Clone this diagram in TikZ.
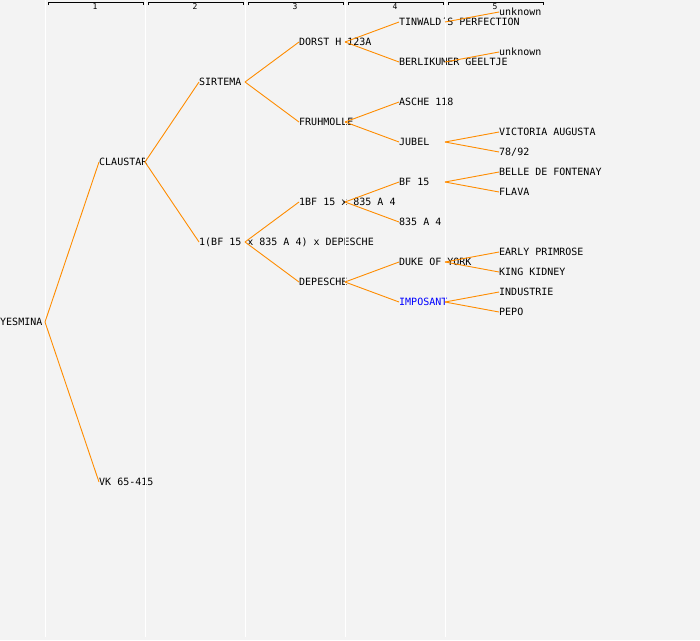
\documentclass[tikz,border=0pt]{standalone}
\usepackage{fontspec}
\setmonofont{DejaVu Sans Mono}
\usepackage{xcolor}
\definecolor{pedbg}{HTML}{F3F3F3}
\definecolor{pedline}{HTML}{FF8C00}
\definecolor{pedblue}{HTML}{0000FF}

\tikzset{
  horse/.style={anchor=west, inner sep=0pt, font=\ttfamily\fontsize{10}{10}\selectfont,
    text height=7.3pt, text depth=0pt},
  link/.style={draw=pedline, line width=0.9pt},
  colline/.style={draw=white, line width=1pt},
  genbox/.style={draw=black, line width=0.8pt},
  genno/.style={font=\ttfamily\fontsize{8}{8}\selectfont, inner sep=0pt}
}

\begin{document}
\begin{tikzpicture}[x=1pt, y=-1pt]

% Background
\fill[pedbg] (0,0) rectangle (700,640);
\useasboundingbox (0,0) rectangle (700,640);

% Generation headers
\foreach \g in {1,...,5} {
  \draw[genbox] ({100*\g-52},5) -- ({100*\g-52},2) -- ({100*\g+43},2) -- ({100*\g+43},5);
  \node[genno] (gen\g) at ({100*\g-5},6.5) {\g};
}

% Nodes
\node[horse] (yesmina) at (0,322) {YESMINA};

\node[horse] (claustar) at (99,162) {CLAUSTAR};
\node[horse] (vk) at (99,482) {VK 65-415};

\node[horse] (sirtema) at (199,82) {SIRTEMA};
\node[horse] (cross) at (199,242) {1(BF 15 x 835 A 4) x DEPESCHE};

\node[horse] (dorst) at (299,42) {DORST H 123A};
\node[horse] (fruhmolle) at (299,122) {FRUHMOLLE};
\node[horse] (bfcross) at (299,202) {1BF 15 x 835 A 4};
\node[horse] (depesche) at (299,282) {DEPESCHE};

\node[horse] (tinwald) at (399,22) {TINWALD´S PERFECTION};
\node[horse] (berlikumer) at (399,62) {BERLIKUMER GEELTJE};
\node[horse] (asche) at (399,102) {ASCHE 118};
\node[horse] (jubel) at (399,142) {JUBEL};
\node[horse] (bf) at (399,182) {BF 15};
\node[horse] (a4) at (399,222) {835 A 4};
\node[horse] (duke) at (399,262) {DUKE OF YORK};
\node[horse, text=pedblue] (imposant) at (399,302) {IMPOSANT};

\node[horse] (unknowna) at (499,12) {unknown};
\node[horse] (unknownb) at (499,52) {unknown};
\node[horse] (victoria) at (499,132) {VICTORIA AUGUSTA};
\node[horse] (nr) at (499,152) {78/92};
\node[horse] (belle) at (499,172) {BELLE DE FONTENAY};
\node[horse] (flava) at (499,192) {FLAVA};
\node[horse] (early) at (499,252) {EARLY PRIMROSE};
\node[horse] (king) at (499,272) {KING KIDNEY};
\node[horse] (industrie) at (499,292) {INDUSTRIE};
\node[horse] (pepo) at (499,312) {PEPO};

% Column lines
\foreach \c in {45,145,245,345,445}
  \draw[colline] (\c,0) -- (\c,637);

% Links
\draw[link] ([xshift=45pt]yesmina.west) -- (claustar.west);
\draw[link] ([xshift=45pt]yesmina.west) -- (vk.west);

\draw[link] ([xshift=46pt]claustar.west) -- (sirtema.west);
\draw[link] ([xshift=46pt]claustar.west) -- (cross.west);

\draw[link] ([xshift=46pt]sirtema.west) -- (dorst.west);
\draw[link] ([xshift=46pt]sirtema.west) -- (fruhmolle.west);
\draw[link] ([xshift=46pt]cross.west) -- (bfcross.west);
\draw[link] ([xshift=46pt]cross.west) -- (depesche.west);

\draw[link] ([xshift=46pt]dorst.west) -- (tinwald.west);
\draw[link] ([xshift=46pt]dorst.west) -- (berlikumer.west);
\draw[link] ([xshift=46pt]fruhmolle.west) -- (asche.west);
\draw[link] ([xshift=46pt]fruhmolle.west) -- (jubel.west);
\draw[link] ([xshift=46pt]bfcross.west) -- (bf.west);
\draw[link] ([xshift=46pt]bfcross.west) -- (a4.west);
\draw[link] ([xshift=46pt]depesche.west) -- (duke.west);
\draw[link] ([xshift=46pt]depesche.west) -- (imposant.west);

\draw[link] ([xshift=46pt]tinwald.west) -- (unknowna.west);
\draw[link] ([xshift=46pt]berlikumer.west) -- (unknownb.west);
\draw[link] ([xshift=46pt]jubel.west) -- (victoria.west);
\draw[link] ([xshift=46pt]jubel.west) -- (nr.west);
\draw[link] ([xshift=46pt]bf.west) -- (belle.west);
\draw[link] ([xshift=46pt]bf.west) -- (flava.west);
\draw[link] ([xshift=46pt]duke.west) -- (early.west);
\draw[link] ([xshift=46pt]duke.west) -- (king.west);
\draw[link] ([xshift=46pt]imposant.west) -- (industrie.west);
\draw[link] ([xshift=46pt]imposant.west) -- (pepo.west);

\end{tikzpicture}
\end{document}
